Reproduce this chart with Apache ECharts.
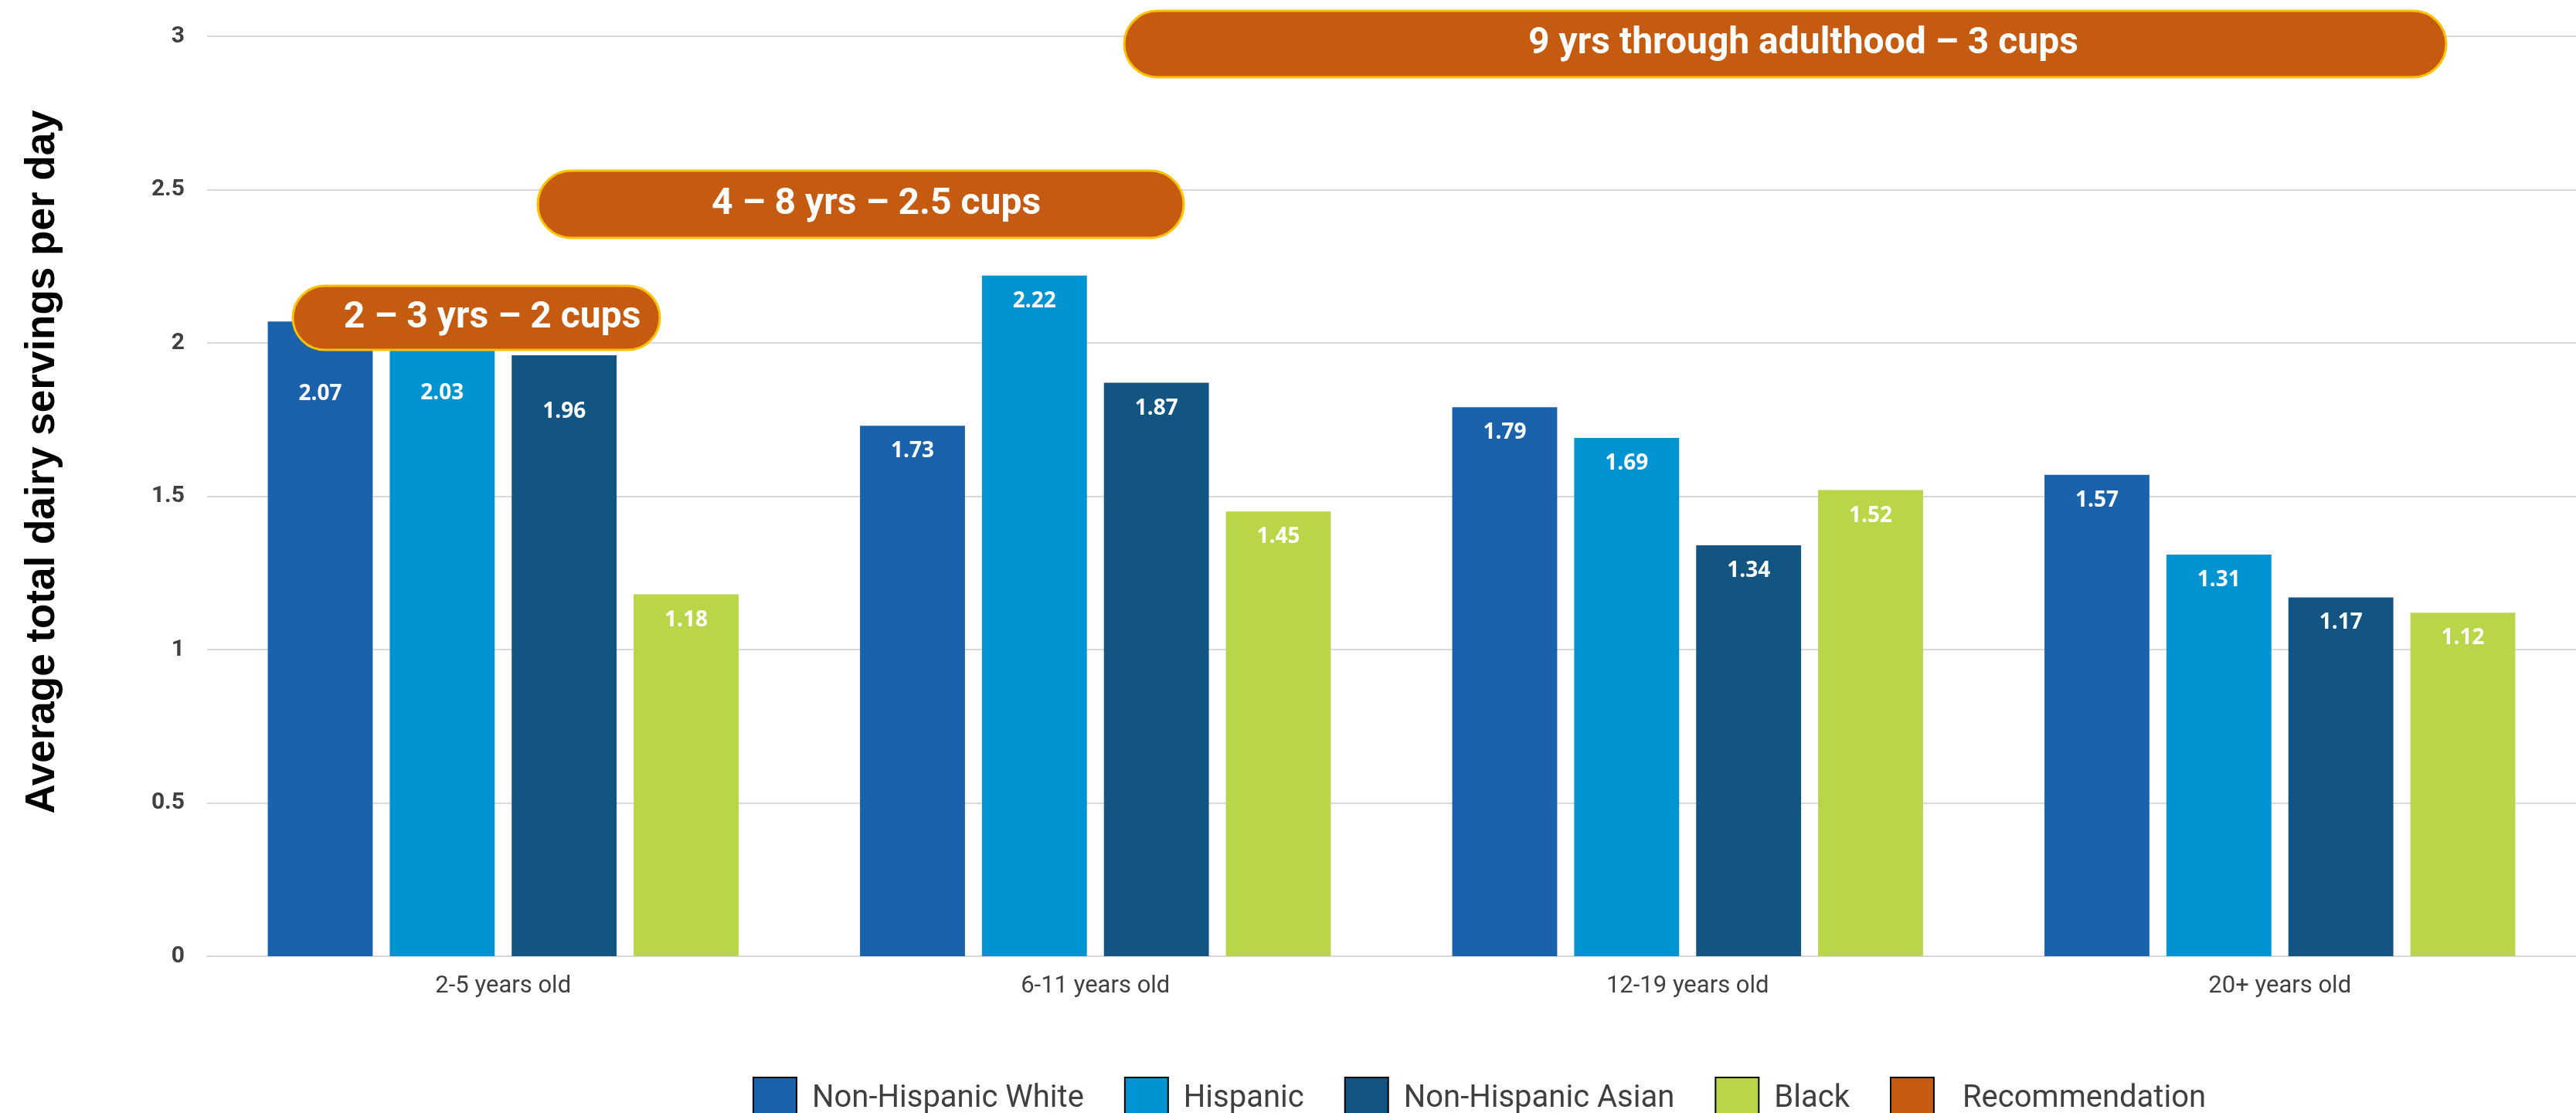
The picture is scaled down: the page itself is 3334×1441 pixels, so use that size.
<!DOCTYPE html>
<html>
<head>
<meta charset="utf-8">
<script src="https://cdn.jsdelivr.net/npm/echarts@6/dist/echarts.min.js"></script>
<style>
html,body{margin:0;padding:0;background:#fff;}
#chart{width:3334px;height:1441px;}
</style>
</head>
<body>
<div id="chart"></div>
<script>
// ---- data ----
const categories = ['2-5 years old', '6-11 years old', '12-19 years old', '20+ years old'];
const seriesNames = ['Non-Hispanic White', 'Hispanic', 'Non-Hispanic Asian', 'Black'];
const nonHispanicWhite = [2.07, 1.73, 1.79, 1.57];
const hispanic = [2.03, 2.22, 1.69, 1.31];
const nonHispanicAsian = [1.96, 1.87, 1.34, 1.17];
const black = [1.18, 1.45, 1.52, 1.12];
const recommendationName = 'Recommendation';
const recommendationLabels = ['2 – 3 yrs – 2 cups', '4 – 8 yrs – 2.5 cups', '9 yrs through adulthood – 3 cups'];
const yTicks = [0, 0.5, 1, 1.5, 2, 2.5, 3];
const yAxisTitle = 'Average total dairy servings per day';

// ---- styles ----
const colors = ['#1B62AC', '#0294D2', '#125582', '#B8D648'];
const recColor = '#C55A11';
const allValues = [nonHispanicWhite, hispanic, nonHispanicAsian, black];

// manual label displacement seen in the first group (series index -> category index -> dy)
const labelShift = {0: {0: 61}, 1: {0: 44}, 2: {0: 40}};

const series = allValues.map((vals, si) => ({
  name: seriesNames[si],
  type: 'bar',
  barGap: '16.2%',
  barCategoryGap: '20.5%',
  itemStyle: {color: colors[si]},
  label: {
    show: true,
    position: 'insideTop',
    distance: 19,
    color: '#fff',
    fontFamily: 'Open Sans',
    fontWeight: 'bold',
    fontSize: 28,
    formatter: p => p.value.toFixed(2)
  },
  data: vals.map((v, ci) => {
    const dy = labelShift[si] && labelShift[si][ci];
    return dy ? {value: v, label: {offset: [0, dy]}} : v;
  })
}));
// legend-only entry for the recommendation pills (does not take a bar slot)
series.push({
  name: recommendationName,
  type: 'line',
  color: recColor,
  itemStyle: {color: recColor},
  lineStyle: {color: recColor},
  data: []
});

// annotation pills (layout in pixels)
const pillBoxes = [
  {x: 379, y: 370, w: 475, h: 83, tx: 637},
  {x: 696, y: 221, w: 836, h: 87, tx: 1134},
  {x: 1455, y: 14, w: 1711, h: 86, tx: 2334}
];
const graphics = [];
pillBoxes.forEach((b, i) => {
  graphics.push({
    type: 'rect', z: 100,
    shape: {x: b.x, y: b.y, width: b.w, height: b.h, r: b.h / 2},
    style: {fill: recColor, stroke: '#FFC000', lineWidth: 3}
  });
  graphics.push({
    type: 'text', z: 101,
    x: b.tx, y: b.y + b.h / 2,
    style: {
      text: recommendationLabels[i],
      fill: '#fff',
      font: 'bold 48px Roboto',
      align: 'center',
      verticalAlign: 'middle'
    }
  });
});
// y-axis title
graphics.push({
  type: 'text', z: 50,
  x: 55, y: 598,
  rotation: Math.PI / 2,
  style: {
    text: yAxisTitle,
    fill: '#000',
    font: 'bold 53px "Liberation Sans"',
    align: 'center',
    verticalAlign: 'middle'
  }
});

const chart = echarts.init(document.getElementById('chart'));
chart.setOption({
  animation: false,
  backgroundColor: '#fff',
  grid: {left: 268, right: -3, top: 47, bottom: 203, containLabel: false},
  legend: {
    left: 969, top: 1389,
    itemWidth: 56, itemHeight: 56, itemGap: 52,
    icon: 'rect',
    itemStyle: {borderColor: '#000', borderWidth: 2},
    textStyle: {
      fontFamily: 'Roboto', fontSize: 40, color: '#404040', padding: [0, 0, 0, 15],
      rich: {r: {padding: [0, 0, 0, 17], fontFamily: 'Roboto', fontSize: 40, color: '#404040'}}
    },
    formatter: n => n === recommendationName ? '{r|' + n + '}' : n,
    data: seriesNames.concat([recommendationName])
  },
  xAxis: {
    type: 'category',
    data: categories,
    axisLine: {lineStyle: {color: '#D9D9D9', width: 2}},
    axisTick: {show: false},
    axisLabel: {fontFamily: 'Roboto', fontSize: 31, color: '#404040', margin: 24}
  },
  yAxis: {
    type: 'value',
    min: yTicks[0], max: yTicks[yTicks.length - 1], interval: 0.5,
    axisLine: {show: false},
    axisTick: {show: false},
    splitLine: {lineStyle: {color: '#D9D9D9', width: 2}},
    axisLabel: {fontFamily: 'Roboto', fontWeight: 'bold', fontSize: 30, color: '#404040', margin: 29}
  },
  series: series,
  graphic: graphics
});
</script>
</body>
</html>
